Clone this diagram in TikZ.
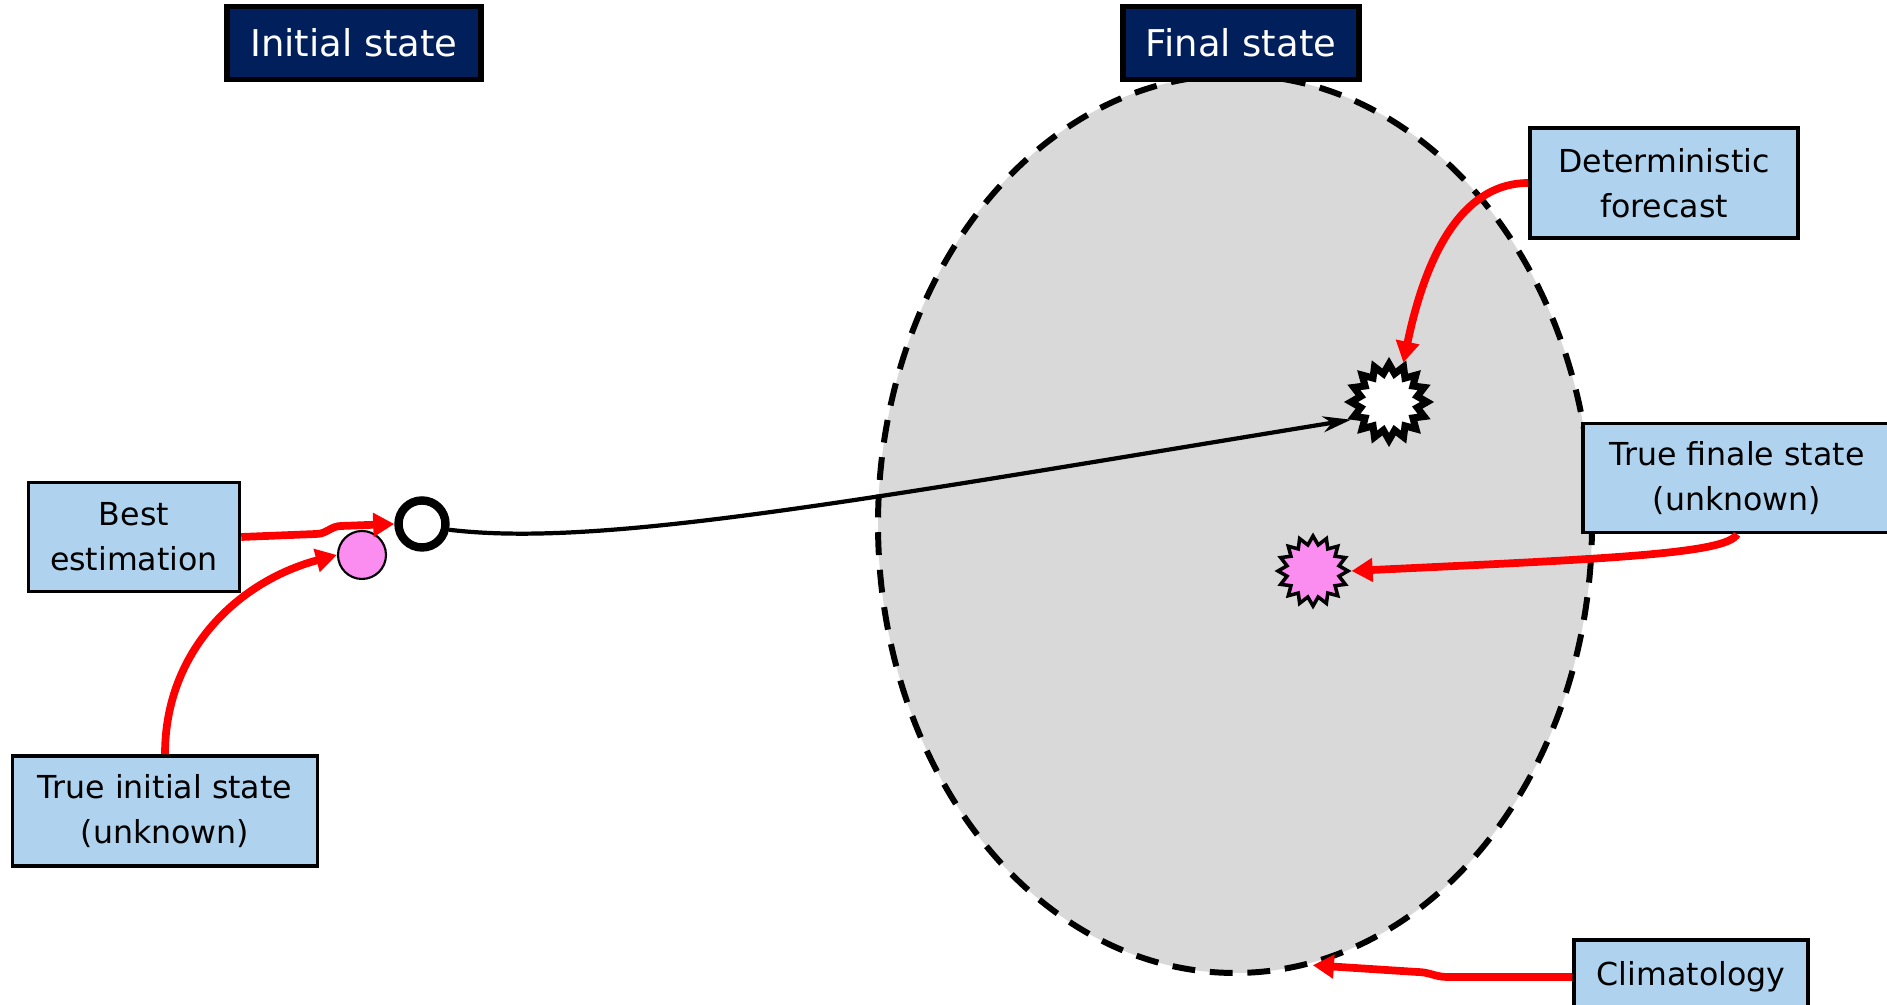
\documentclass[tikz,border=0pt]{standalone}
\usepackage{fontspec}
\setmainfont{DejaVu Sans}
\usetikzlibrary{shapes.geometric,arrows.meta}

\definecolor{labelblue}{RGB}{175,211,238}
\definecolor{titlenavy}{RGB}{0,31,91}
\definecolor{spreadgrey}{RGB}{217,217,217}
\definecolor{statepink}{RGB}{251,140,240}

\tikzset{
    labelbox/.style={draw=black, line width=1pt, fill=labelblue, align=center,
        inner sep=0pt, font=\fontsize{9}{12.8}\selectfont},
    titlebox/.style={draw=black, line width=1.5pt, fill=titlenavy, text=white,
        inner sep=0pt, font=\fontsize{10.5}{12}\selectfont},
    burst/.style={star, star points=16, star point ratio=1.32, draw=black, inner sep=0pt},
    pointer/.style={red, line width=2.2pt, -{Triangle[length=6pt,width=6.5pt]}}
}

\begin{document}
\begin{tikzpicture}[x=0.1mm, y=0.1mm]
        \useasboundingbox (0,0) rectangle (1887,1005);

        % Spread of possible final states
        \node[ellipse, draw=black, fill=spreadgrey, line width=1.7pt,
            dash pattern=on 6.5pt off 4.2pt, inner sep=0pt,
            minimum width=71.4mm, minimum height=89.8mm] (spread) at (1235,481) {};

        % States: bursts at the end, dots at the start
        \node[burst, fill=white, line width=2pt, minimum size=7.6mm] (fcst) at (1389,603) {};
        \node[burst, fill=statepink, line width=1pt, minimum size=7mm] (truefin) at (1313,434) {};
        \node[circle, draw=black, fill=white, line width=2.4pt, inner sep=0pt,
            minimum size=4.7mm] (bestdot) at (422,481) {};
        \node[circle, draw=black, fill=statepink, line width=0.6pt, inner sep=0pt,
            minimum size=4.8mm] (truedot) at (362,450) {};

        % Titles
        \node[titlebox, minimum width=25.4mm, minimum height=7.3mm] (initt) at (354,962) {Initial state};
        \node[titlebox, minimum width=23.6mm, minimum height=7.3mm] (finalt) at (1241,962) {Final state};

        % Labels
        \node[labelbox, minimum width=21.1mm, minimum height=10.9mm] (best) at (134,468) {Best\\estimation};
        \node[labelbox, minimum width=30.5mm, minimum height=11mm] (trueinit) at (165,194) {True initial state\\(unknown)};
        \node[labelbox, minimum width=26.8mm, minimum height=11mm] (determ) at (1664,822) {Deterministic\\forecast};
        \node[labelbox, minimum width=30.8mm, minimum height=10.9mm] (truefinal) at (1737,527) {True finale state\\(unknown)};
        \node[labelbox, minimum width=23.4mm, minimum height=7.4mm] (clim) at (1691,28) {Climatology};

        % Forecast trajectory
        \draw[line width=1.2pt, -{Stealth[length=8pt,width=4.5pt,inset=2.5pt]}]
            (bestdot.-12) .. controls (600,457) and (854,504) .. (fcst.205);

        % Pointers from the labels
        \draw[pointer] (best.east) -- ++(75,3) to[out=0,in=180] ++(25,8) -- (bestdot.west);
        \draw[pointer] (trueinit.north) to[out=90,in=195] (truedot.west);
        \draw[pointer] (determ.west) .. controls +(-60,0) and +(25,120) .. (fcst.70);
        \draw[pointer] (truefinal.south) .. controls +(-10,-20) and +(250,12) .. (truefin.east);
        \draw[pointer] (clim.west) -- ++(-125,0) to[out=180,in=0] ++(-30,5) -- (spread.-80);
    \end{tikzpicture}
\end{document}
